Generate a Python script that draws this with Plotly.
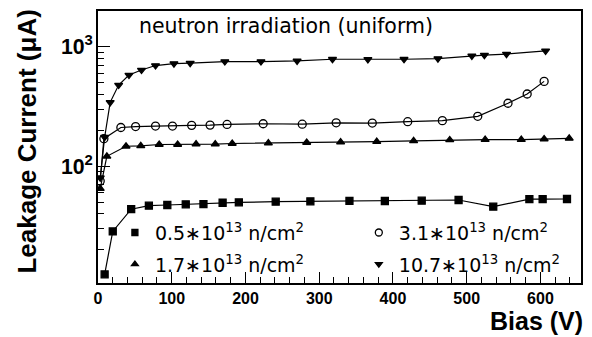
import plotly.graph_objects as go

# Leakage current vs bias voltage for four neutron fluences
bias_05 = [9, 20, 45, 69, 94, 119, 143, 169, 191, 241, 288, 341, 389, 439, 489, 536, 585, 603, 636]
curr_05 = [12.4, 28.4, 43.6, 46.7, 47.3, 47.9, 48.1, 49.4, 49.8, 50.4, 50.8, 51.2, 51.1, 51.4, 52.1, 45.8, 52.9, 52.9, 53.1]

bias_17 = [3, 12, 38, 58, 83, 108, 133, 159, 182, 231, 283, 329, 378, 428, 477, 525, 574, 605, 639]
curr_17 = [65, 121, 147, 148, 152, 152, 153, 153, 155, 156, 158, 159, 161, 163, 166, 167, 167, 169, 171]

bias_31 = [3, 8, 31, 51, 78, 101, 127, 152, 175, 224, 277, 323, 372, 420, 467, 515, 556, 582, 605]
curr_31 = [75, 170, 211, 215, 217, 217, 220, 221, 224, 227, 225, 231, 230, 236, 241, 262, 337, 403, 514]

bias_107 = [3, 9, 16.5, 28, 42, 59, 78, 103, 125, 172, 221, 270, 318, 366, 415, 461, 507, 524, 554, 607]
curr_107 = [80, 175, 343, 479, 581, 640, 698, 725, 731, 754, 754, 764, 788, 785, 788, 798, 842, 853, 871, 927]

labels = ["0.5∗10<sup>13</sup> n/cm<sup>2</sup>",
          "1.7∗10<sup>13</sup> n/cm<sup>2</sup>",
          "3.1∗10<sup>13</sup> n/cm<sup>2</sup>",
          "10.7∗10<sup>13</sup> n/cm<sup>2</sup>"]

series = [
    (bias_05, curr_05, "square", labels[0], "legend"),
    (bias_17, curr_17, "triangle-up", labels[1], "legend"),
    (bias_31, curr_31, "circle-open", labels[2], "legend2"),
    (bias_107, curr_107, "triangle-down", labels[3], "legend2"),
]

fig = go.Figure()
for i, (xs, ys, sym, name, leg) in enumerate(series):
    msize = 8 if sym == "circle-open" else 7
    fig.add_trace(go.Scatter(
        x=xs, y=ys, mode="lines+markers", name=name, showlegend=False,
        legendgroup=f"g{i}",
        line=dict(color="black", width=1.2),
        marker=dict(symbol=sym, size=msize, color="black",
                    line=dict(color="black", width=1.3)),
    ))
    # marker-only legend entry
    fig.add_trace(go.Scatter(
        x=[None], y=[None], mode="markers", name=name, legend=leg,
        legendgroup=f"g{i}",
        marker=dict(symbol=sym, size=msize - 1, color="black",
                    line=dict(color="black", width=1.3)),
    ))

legend_style = dict(
    bgcolor="rgba(0,0,0,0)", borderwidth=0,
    font=dict(family="DejaVu Sans", size=19, color="black"),
    tracegroupgap=4, yanchor="top", xanchor="left",
)

fig.update_layout(
    width=592, height=337,
    margin=dict(l=98, r=9, t=10, b=53.5),
    paper_bgcolor="white", plot_bgcolor="white",
    legend=dict(x=0.035, y=0.255, **legend_style),
    legend2=dict(x=0.54, y=0.255, **legend_style),
    xaxis=dict(
        range=[0, 655], dtick=100, tick0=0,
        showline=True, linecolor="black", linewidth=2.2, mirror=True,
        ticks="inside", ticklen=11, tickwidth=1.2, tickcolor="black",
        minor=dict(dtick=20, ticks="inside", ticklen=6, tickwidth=1, tickcolor="black"),
        showgrid=False, zeroline=False,
        tickfont=dict(family="Liberation Sans", size=16, color="black", weight="bold"),
    ),
    yaxis=dict(
        type="log", range=[1.021, 3.301], dtick=1,
        exponentformat="power",
        showline=True, linecolor="black", linewidth=1.6, mirror=True,
        ticks="inside", ticklen=12, tickwidth=1.2, tickcolor="black",
        minor=dict(dtick="D1", ticks="inside", ticklen=6, tickwidth=1, tickcolor="black"),
        showgrid=False, zeroline=False,
        tickfont=dict(family="Liberation Sans", size=17, color="black", weight="bold"),
    ),
    annotations=[
        dict(text="neutron irradiation (uniform)", xref="paper", yref="paper",
             x=0.0804, y=0.945, xanchor="left", yanchor="middle", showarrow=False,
             font=dict(family="DejaVu Sans", size=20.5, color="black")),
        dict(text="Leakage Current (μA)", xref="paper", yref="paper",
             x=-0.1464, y=0.521, xanchor="center", yanchor="middle", textangle=-90,
             showarrow=False,
             font=dict(family="Liberation Sans", size=26, color="black", weight="bold")),
        dict(text="Bias (V)", xref="paper", yref="paper",
             x=1.006, y=-0.138, xanchor="right", yanchor="middle", showarrow=False,
             borderpad=0,
             font=dict(family="Liberation Sans", size=25, color="black", weight="bold")),
    ],
)

fig.write_html("out.html")
